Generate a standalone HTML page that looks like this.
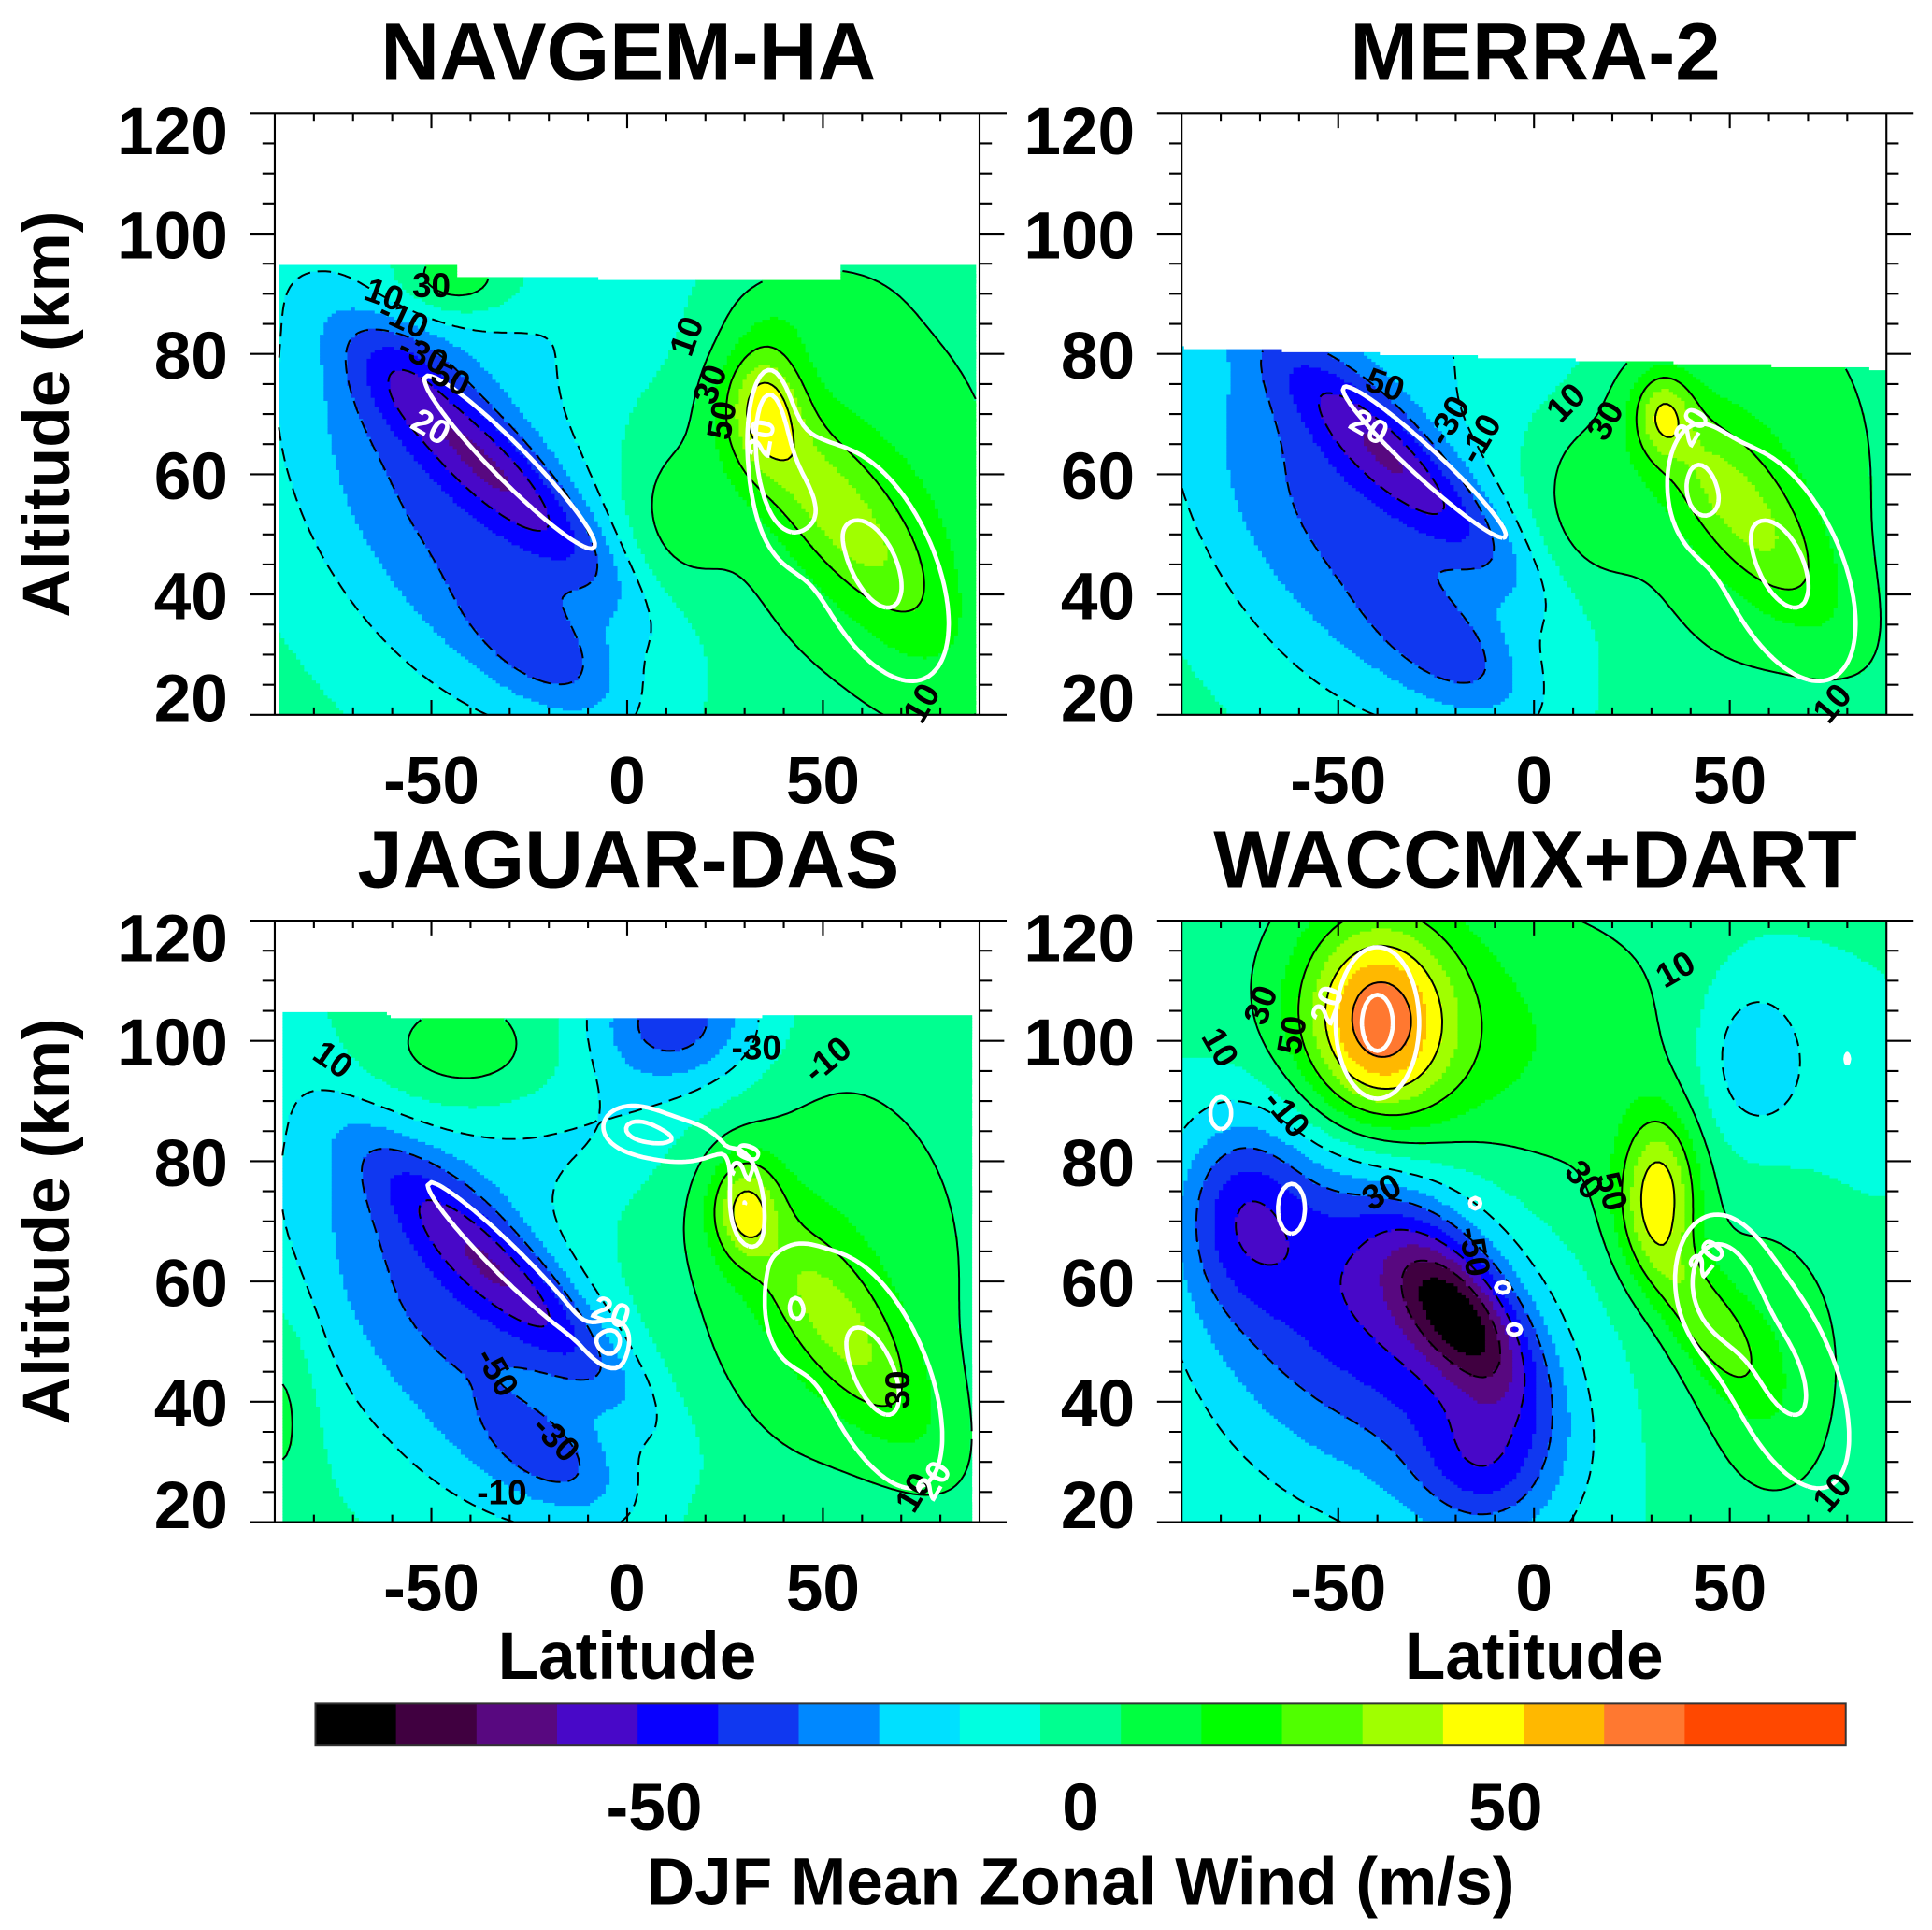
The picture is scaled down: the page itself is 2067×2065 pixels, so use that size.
<!DOCTYPE html>
<html><head><meta charset="utf-8">
<style>
html,body{margin:0;padding:0;background:#fff;}
svg{display:block;}
text{font-family:"Liberation Sans",Arial,sans-serif;font-weight:bold;}
</style></head>
<body>
<svg id="chart" xmlns="http://www.w3.org/2000/svg" width="2067" height="2065" viewBox="0 0 1568 1566" preserveAspectRatio="none">
<rect x="0" y="0" width="1568" height="1566" fill="#fff"/>
<g id="panels"></g>
<g id="colorbar"></g>
<text x="877" y="1545" font-size="54" text-anchor="middle">DJF Mean Zonal Wind (m/s)</text>
</svg>
<script>
// ---- colour levels ----
const levelEdges = [-80,-70,-60,-50,-40,-30,-20,-10,0,10,20,30,40,50,60,70,80];
const levelColors = ["#000000","#400040","#580880","#4808c8","#0800ff","#1038f0","#0088ff","#00e0ff","#00ffe0","#00ff90","#00ff40","#00ff00","#50ff00","#a0ff00","#ffff00","#ffb800","#ff7830","#ff4800"];
const blackLevels = [-70,-50,-30,-10,10,30,50,70];
const whiteLevels = [20,30];
const cbarTicks = [-50,0,50];
const cbarTickX = [531,877,1222];

// ---- panel titles ----
const panelTitles = ["NAVGEM-HA","MERRA-2","JAGUAR-DAS","WACCMX+DART"];

// ---- data top boundary [lat, alt] ----
const topEdgeNAVGEM = [[-90,94.8],[-44,94.8],[-43,92.6],[54,92.3],[55,94.8],[90,94.8]];
const topEdgeMERRA = [[-90,81],[90,77.4]];
const topEdgeJAGUAR = [[-90,104.6],[-62,104.6],[-60,103.8],[90,104.1]];
const topEdgeWACCMX = [[-90,121],[90,121]];

// ---- zonal wind blobs: [lat, alt, amplitude, sigmaLat, sigmaAlt, tilt] ----
const windNAVGEM = [
 [-33,60,-34,10,15,-1.45],[-46,56,-36,27,25,-0.55],[-20,30,-22,12,8,-1.0],[-58,78,-10,10,8,0],
 [0,88,-10,30,10,0],[35,72,33,7,8,0],[52,55,28,11,14,-1.0],[55,60,15,25,25,0],
 [-45,92,25,12,5,0],[80,40,8,15,20,0],[10,52,12,10,10,0],[40,88,8,15,5,0]];
const windMERRA = [
 [-35,62,-36,10,14,-1.45],[-50,55,-36,27,25,-0.55],[-20,30,-22,12,8,-1.0],[0,85,-10,30,10,0],
 [33,70,28,5,5,0],[52,55,28,11,14,-1.0],[55,60,15,25,25,0],[12,55,12,10,10,0]];
const windJAGUAR = [
 [-30,60,-36,10,15,-1.45],[-48,58,-36,25,25,-0.55],[-18,30,-22,12,7,-1.0],[12,103,-40,16,8,0],
 [-45,97,18,20,8,0],[-10,85,-12,20,8,0],[30,72,35,6,6,0],[55,52,28,11,14,-0.9],
 [50,62,15,28,25,0],[-88,40,12,6,12,0]];
const windWACCMX = [
 [-40,103,55,13,12,0],[-38,100,28,26,17,0],[20,95,12,30,20,0],[55,97,-18,10,10,0],
 [65,90,-10,25,20,0],[-75,72,-28,11,11,0],[-60,60,-22,22,20,0],[-18,54,-52,10,10,-0.8],
 [-25,50,-25,20,20,-0.5],[-12,30,-25,12,8,0],[-40,55,-20,32,32,-0.3],
 [32,75,48,7,9,0],[42,55,28,8,10,-0.8],[60,50,15,15,20,0]];
const windBase = [3,3,3,3];

// ---- white contour field blobs ----
const whiteNAVGEM = [[-30,62,30,7,16,-1.45],[36,68,25,4,8,0],[63,45,32,17,20,-0.5],[40,55,15,6,8,0]];
const whiteMERRA = [[-28,62,30,6,14,-1.6],[63,45,32,17,20,-0.5],[40,58,15,6,8,0]];
const whiteJAGUAR = [[-30,63,30,6,15,-1.5],[-3,51,25,4,3,0],[0,86,24,8,4,0],[15,83,24,10,4,0],[30,73,24,4,6,0],[63,45,32,15,20,-0.5],[40,55,15,6,8,0]];
const whiteWACCMX = [[-40,103,32,11,13,0],[-80,88,25,4,4,0],[-62,72,25,5,6,0],[-15,73,22,3,2,0],[-8,59,22,4,2,0],[-5,52,22,4,2,0],[80,97,22,1.5,2,0],[63,45,32,15,20,-0.5],[45,60,18,8,8,0]];

// ---- contour labels [lat, alt, text, angle, isWhite] ----
const labelsNAVGEM = [[-62,90,"10",20,0],[-50,91.5,"30",0,0],[-57,86,"-10",25,0],[-52,80,"-30",25,0],[-45,76,"50",25,0],[15,83,"10",-70,0],[21,75,"30",-70,0],[24,69,"50",-80,0],[75,22,"10",-60,0],[-50,68,"20",30,1],[34,66,"20",-80,1]];
const labelsMERRA = [[-38,75,"50",20,0],[-22,69,"-30",-60,0],[-14,66,"-10",-60,0],[8,72,"10",-45,0],[18,69,"30",-60,0],[-42,68,"20",30,1],[40,68,"20",-60,1],[76,22,"10",-50,0]];
const labelsJAGUAR = [[-75,97,"10",35,0],[33,99,"-30",0,0],[51,97,"-10",-40,0],[30,80,"20",-70,1],[-4,55,"20",20,1],[-33,45,"-50",60,0],[-18,34,"-30",45,0],[-32,25,"-10",0,0],[69,42,"30",-90,0],[73,25,"10",-60,0],[78,27,"20",-60,1]];
const labelsWACCMX = [[-70,106,"30",-70,0],[-62,101,"50",-80,0],[-53,106,"20",-70,1],[-80,99,"10",60,0],[-63,88,"-10",50,0],[36,112,"10",-30,0],[-39,75,"30",-30,0],[-15,65,"-50",80,0],[13,77,"30",50,0],[20,75,"50",75,0],[44,64,"20",-50,1],[76,25,"10",-50,0]];

const windSets = [windNAVGEM,windMERRA,windJAGUAR,windWACCMX];
const whiteSets = [whiteNAVGEM,whiteMERRA,whiteJAGUAR,whiteWACCMX];
const topSets = [topEdgeNAVGEM,topEdgeMERRA,topEdgeJAGUAR,topEdgeWACCMX];
const labelSets = [labelsNAVGEM,labelsMERRA,labelsJAGUAR,labelsWACCMX];
const latRanges = [[-89,89],[-90,90],[-88,88],[-90,90]];

// ---- geometry (not data) ----
const panelGeom = [{x0:223,yb:580},{x0:959,yb:580},{x0:223,yb:1235},{x0:959,yb:1235}];
const PX_PER_DEG = 572/180, PX_PER_KM = 488/100;
const NS = "http://www.w3.org/2000/svg";
const root = document.getElementById("panels");

function xS(g,lat){return g.x0+(lat+90)*PX_PER_DEG;}
function yS(g,z){return g.yb-(z-20)*PX_PER_KM;}
function el(tag,parent){const e=document.createElementNS(NS,tag);parent.appendChild(e);return e;}
function field(blobs,base,lat,z){
  let v=base;
  for(const b of blobs){
    const dz=z-b[1];const dl=lat-b[0]-b[5]*dz;
    v+=b[2]*Math.exp(-0.5*((dl/b[3])**2+(dz/b[4])**2));
  }
  return v;
}
function topAt(edge,lat){
  for(let i=0;i<edge.length-1;i++){
    const a=edge[i],b=edge[i+1];
    if(lat>=a[0]&&lat<=b[0]){return a[1]+(b[1]-a[1])*(lat-a[0])/((b[0]-a[0])||1);}
  }
  return edge[edge.length-1][1];
}
function colorIdx(v){let k=0;for(const e of levelEdges){if(v>=e)k++;}return k;}

function contourPaths(grid,nx,ny,level,toPx){
  const adj=new Map(),pts=new Map();
  function add(k,p){if(!adj.has(k)){adj.set(k,[]);pts.set(k,p);}}
  function link(e1,e2){add(e1[0],e1[1]);add(e2[0],e2[1]);adj.get(e1[0]).push(e2[0]);adj.get(e2[0]).push(e1[0]);}
  for(let j=0;j<ny-1;j++)for(let i=0;i<nx-1;i++){
    const a=grid[j][i],b=grid[j][i+1],c=grid[j+1][i+1],d=grid[j+1][i];
    if(isNaN(a)||isNaN(b)||isNaN(c)||isNaN(d))continue;
    const A=a>level,B=b>level,C=c>level,D=d>level;
    const E={};
    if(A!==B)E.b=["h"+i+","+j,[i+(level-a)/(b-a),j]];
    if(B!==C)E.r=["v"+(i+1)+","+j,[i+1,j+(level-b)/(c-b)]];
    if(D!==C)E.t=["h"+i+","+(j+1),[i+(level-d)/(c-d),j+1]];
    if(A!==D)E.l=["v"+i+","+j,[i,j+(level-a)/(d-a)]];
    const ks=Object.keys(E);
    if(ks.length===2)link(E[ks[0]],E[ks[1]]);
    else if(ks.length===4){
      const cen=(a+b+c+d)/4;
      if((cen>level)===A){link(E.b,E.r);link(E.t,E.l);}else{link(E.b,E.l);link(E.r,E.t);}
    }
  }
  const used=new Set();let dstr="";
  function walk(start){
    let cur=start,prev=null;const seq=[cur];used.add(cur);
    while(true){
      const nb=adj.get(cur).filter(n=>n!==prev&&!used.has(n));
      if(!nb.length){const back=adj.get(cur).find(n=>n===start&&n!==prev&&seq.length>2);if(back)seq.push(start);break;}
      prev=cur;cur=nb[0];used.add(cur);seq.push(cur);
    }
    dstr+=seq.map((k,ix)=>{const p=toPx(pts.get(k));return (ix?"L":"M")+p[0].toFixed(1)+" "+p[1].toFixed(1);}).join("");
  }
  for(const [k,n] of adj){if(n.length===1&&!used.has(k))walk(k);}
  for(const [k] of adj){if(!used.has(k))walk(k);}
  return dstr;
}

for(let p=0;p<4;p++){
  const g=panelGeom[p];
  const grp=el("g",root);
  
  
  const [lat0,lat1]=latRanges[p];
  const dl=1,dz=0.5;
  const nx=Math.round((lat1-lat0)/dl)+1, ny=Math.round((121-20)/dz)+1;
  const U=[],W=[];
  for(let j=0;j<ny;j++){
    const z=20+j*dz;const ru=[],rw=[];
    for(let i=0;i<nx;i++){
      const lat=lat0+i*dl;
      if(z>topAt(topSets[p],lat)+0.01||z>120){ru.push(NaN);rw.push(NaN);continue;}
      ru.push(field(windSets[p],windBase[p],lat,z));
      rw.push(field(whiteSets[p],0,lat,z));
    }
    U.push(ru);W.push(rw);
  }
  const fillG=el("g",grp);
  
  
  for(let j=0;j<ny;j++){
    const z=20+j*dz;
    const y0=Math.max(yS(g,Math.min(z+dz/2,120)),yS(g,120)), y1=Math.min(yS(g,Math.max(z-dz/2,20)),g.yb);
    if(y1<=y0)continue;
    let i=0;
    while(i<nx){
      if(isNaN(U[j][i])){i++;continue;}
      const k=colorIdx(U[j][i]);let i2=i;
      while(i2+1<nx&&!isNaN(U[j][i2+1])&&colorIdx(U[j][i2+1])===k)i2++;
      const la=lat0+i*dl-dl/2, lb=lat0+i2*dl+dl/2;
      const r=el("rect",fillG);
      
      
      const xa=Math.max(xS(g,Math.max(la,lat0)),xS(g,-90));
      r.setAttribute("x",xa.toFixed(1));r.setAttribute("y",(y0-0.2).toFixed(1));
      r.setAttribute("width",(xS(g,Math.min(lb,lat1))-xa+0.4).toFixed(1));
      r.setAttribute("height",(y1-y0+0.5).toFixed(1));
      r.setAttribute("fill",levelColors[k]);
      i=i2+1;
    }
  }
  const toPx=q=>[xS(g,lat0+q[0]*dl),yS(g,20+q[1]*dz)];
  for(const lv of blackLevels){
    const d=contourPaths(U,nx,ny,lv,toPx);if(!d)continue;
    const path=el("path",grp);
    
    
    path.setAttribute("d",d);path.setAttribute("fill","none");path.setAttribute("stroke","#000");
    path.setAttribute("stroke-width","1.5");
    if(lv<0)path.setAttribute("stroke-dasharray","11 6");
  }
  for(const lv of whiteLevels){
    const d=contourPaths(W,nx,ny,lv,toPx);if(!d)continue;
    const path=el("path",grp);
    
    
    path.setAttribute("d",d);path.setAttribute("fill","none");path.setAttribute("stroke","#fff");
    path.setAttribute("stroke-width","3.5");path.setAttribute("stroke-linejoin","round");
  }
  for(const L of labelSets[p]){
    const t=el("text",grp);
    
    
    const x=xS(g,L[0]),y=yS(g,L[1]);
    t.setAttribute("x",x);t.setAttribute("y",y+10);
    t.setAttribute("font-size","28");t.setAttribute("text-anchor","middle");
    t.setAttribute("fill",L[4]?"#fff":"#000");
    t.setAttribute("transform","rotate("+L[3]+" "+x+" "+y+")");
    t.textContent=L[2];
  }
  const ax=el("g",grp);
  
  
  const xl=xS(g,-90),xr=xS(g,90),yt=yS(g,120),yb=g.yb;
  let d="M"+(xl-20)+" "+yt+"H"+(xr+22)+"M"+(xl-20)+" "+yb+"H"+(xr+22)+"M"+xl+" "+yt+"V"+yb+"M"+xr+" "+yt+"V"+yb;
  for(let z=20;z<=120;z+=5){
    const y=yS(g,z);const maj=z%20===0;
    d+="M"+(xl-(maj?20:10))+" "+y+"H"+xl+"M"+xr+" "+y+"H"+(xr+(maj?20:10));
  }
  for(let lat=-80;lat<=80;lat+=10){
    const x=xS(g,lat);const maj=lat%50===0;
    d+="M"+x+" "+yt+"V"+(yt+(maj?12:6))+"M"+x+" "+yb+"V"+(yb-(maj?12:6));
  }
  const fr=el("path",ax);
  
  
  fr.setAttribute("d",d);fr.setAttribute("stroke","#000");fr.setAttribute("stroke-width","1.6");fr.setAttribute("fill","none");
  for(let z=20;z<=120;z+=20){
    const t=el("text",ax);
    
    
    let yc=yS(g,z);if(z===120)yc+=13;if(z===20)yc-=15;
    t.setAttribute("x",g.x0-38);t.setAttribute("y",yc+20);t.setAttribute("font-size","54");t.setAttribute("text-anchor","end");
    t.textContent=String(z);
  }
  for(const lat of [-50,0,50]){
    const t=el("text",ax);
    
    
    t.setAttribute("x",xS(g,lat));t.setAttribute("y",yb+72);t.setAttribute("font-size","54");t.setAttribute("text-anchor","middle");
    t.textContent=String(lat);
  }
  const ti=el("text",grp);
  
  
  ti.setAttribute("x",xS(g,0)+1);ti.setAttribute("y",yt-27);ti.setAttribute("font-size","66");ti.setAttribute("text-anchor","middle");
  ti.textContent=panelTitles[p];
  if(p%2===0){
    const yt2=el("text",grp);
    
    
    const cy=(yt+yb)/2;
    yt2.setAttribute("x",56);yt2.setAttribute("y",cy);yt2.setAttribute("font-size","54");yt2.setAttribute("text-anchor","middle");
    yt2.setAttribute("transform","rotate(-90 56 "+cy+")");
    yt2.textContent="Altitude (km)";
  }
  if(p>=2){
    const xt=el("text",grp);
    
    
    xt.setAttribute("x",xS(g,0));xt.setAttribute("y",1362);xt.setAttribute("font-size","54");xt.setAttribute("text-anchor","middle");
    xt.textContent="Latitude";
  }
}
const cb=document.getElementById("colorbar");
const segW=1242/19;
let cx=256;
for(let k=0;k<levelColors.length;k++){
  const w=(k===levelColors.length-1)?segW*2:segW;
  const r=el("rect",cb);
  
  
  r.setAttribute("x",cx);r.setAttribute("y",1382);r.setAttribute("width",w+0.5);r.setAttribute("height",34);r.setAttribute("fill",levelColors[k]);
  cx+=w;
}
const ob=el("rect",cb);


ob.setAttribute("x",256);ob.setAttribute("y",1382);ob.setAttribute("width",1242);ob.setAttribute("height",34);
ob.setAttribute("fill","none");ob.setAttribute("stroke","#333");ob.setAttribute("stroke-width","1.5");
for(let i=0;i<cbarTicks.length;i++){
  const t=el("text",cb);
  
  
  t.setAttribute("x",cbarTickX[i]);t.setAttribute("y",1485);t.setAttribute("font-size","54");t.setAttribute("text-anchor","middle");
  t.textContent=String(cbarTicks[i]);
}
</script>
</body></html>
